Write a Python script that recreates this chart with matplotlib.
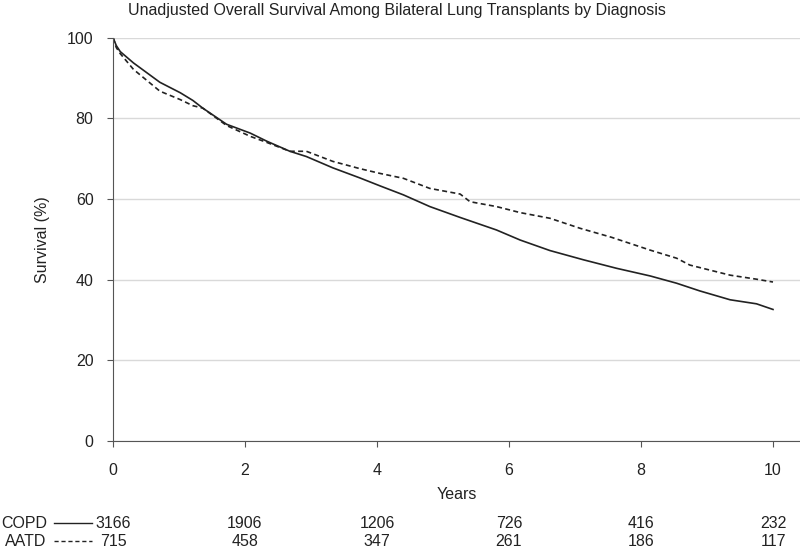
import matplotlib
matplotlib.use("Agg")
import matplotlib.pyplot as plt
from matplotlib.lines import Line2D
from matplotlib.transforms import blended_transform_factory

plt.rcParams['font.family'] = ['Liberation Sans', 'DejaVu Sans']

title = "Unadjusted Overall Survival Among Bilateral Lung Transplants by Diagnosis"

copd_t = [0, 0.05, 0.11, 0.31, 0.71, 1.02, 1.21, 1.36, 1.72, 2.08, 2.33, 2.68, 2.93,
          3.33, 3.74, 4.05, 4.40, 4.80, 5.26, 5.81, 6.17, 6.62, 7.13, 7.63, 8.14,
          8.54, 8.89, 9.35, 9.75, 10.0]
copd_s = [100, 98.0, 96.5, 93.7, 88.9, 86.3, 84.4, 82.5, 78.5, 76.3, 74.3, 71.8, 70.5,
          67.7, 65.2, 63.2, 61.0, 58.1, 55.4, 52.3, 49.8, 47.2, 44.9, 42.8, 40.9,
          39.1, 37.2, 35.0, 34.0, 32.6]

aatd_t = [0, 0.05, 0.11, 0.31, 0.71, 1.02, 1.21, 1.36, 1.72, 2.08, 2.33, 2.68, 2.93,
          3.33, 3.74, 4.05, 4.40, 4.80, 5.26, 5.41, 5.81, 6.17, 6.62, 7.08, 7.55,
          8.14, 8.54, 8.74, 9.35, 9.75, 10.0]
aatd_s = [100, 97.5, 96.0, 92.1, 86.7, 84.6, 83.1, 82.5, 78.2, 75.5, 74.0, 71.8, 71.8,
          69.3, 67.5, 66.3, 65.1, 62.6, 61.2, 59.3, 58.1, 56.6, 55.2, 52.7, 50.5,
          47.3, 45.3, 43.6, 41.1, 40.1, 39.4]

x_ticks = [0, 2, 4, 6, 8, 10]
y_ticks = [0, 20, 40, 60, 80, 100]
risk_labels = ["COPD", "AATD"]
risk_copd = [3166, 1906, 1206, 726, 416, 232]
risk_aatd = [715, 458, 347, 261, 186, 117]

W, H = 800, 550
fs = 11.5
tc = '#222222'
fig = plt.figure(figsize=(8, 5.5), dpi=100)
x0, x1 = 113, 800
y0, y1 = 441, 37.5
ax = fig.add_axes([x0 / W, 1 - y0 / H, (x1 - x0) / W, (y0 - y1) / H])

ink = '#222222'
dash = (0, (3, 2))
ax.plot(copd_t, copd_s, color=ink, lw=1.2, solid_joinstyle='round')
ax.plot(aatd_t, aatd_s, color=ink, lw=1.2, linestyle=dash)

xmax = (x1 - x0) / 66.0
ax.set_xlim(0, xmax)
ax.set_ylim(0, 100)
ax.set_xticks(x_ticks)
ax.set_yticks(y_ticks)
ax.yaxis.grid(True, color='#d9d9d9', lw=1)
ax.set_axisbelow(True)
for s in ['top', 'right']:
    ax.spines[s].set_visible(False)
ax.spines['left'].set_color('#555555')
ax.spines['bottom'].set_color('#555555')
ax.tick_params(axis='both', direction='out', length=4, color='#555555',
               labelsize=fs, labelcolor=tc)
ax.tick_params(axis='x', pad=12)
ax.tick_params(axis='y', pad=10)
ax.set_xlabel("Years", fontsize=fs, color=tc, labelpad=6)
ax.set_ylabel("Survival (%)", fontsize=fs, color=tc, labelpad=12)

fig.text(397 / W, 1 - 11 / H, title, ha='center', va='center', fontsize=fs, color=tc)

# numbers at risk table
rows_y = [524, 542]
tr = blended_transform_factory(ax.transData, fig.transFigure)
for i, (lab, vals, yy, ls) in enumerate(zip(risk_labels, [risk_copd, risk_aatd], rows_y, ['-', dash])):
    if i == 0:
        fig.text(1 / W, 1 - yy / H, lab, ha='left', va='center', fontsize=fs, color=tc)
    else:
        fig.text(46 / W, 1 - yy / H, lab, ha='right', va='center', fontsize=fs, color=tc)
    fig.add_artist(Line2D([54 / W, 92 / W], [1 - (yy - 1) / H] * 2, color=ink, lw=1.0, linestyle=ls))
    for t, v in zip(x_ticks, vals):
        ax.text(t, 1 - yy / H, str(v), transform=tr, ha='center', va='center',
                fontsize=fs, color=tc, clip_on=False)

fig.savefig("out.png", dpi=100)
